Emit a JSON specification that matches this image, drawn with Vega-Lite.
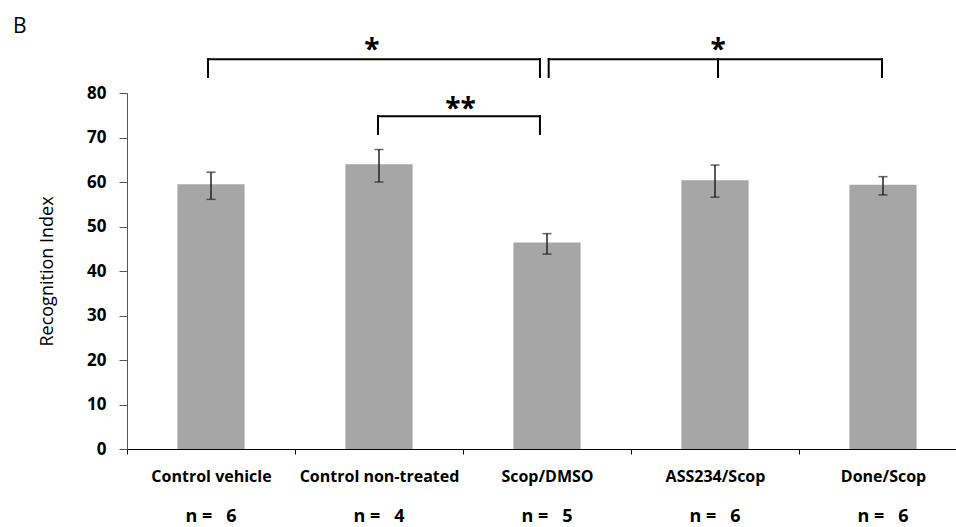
{
  "$schema": "https://vega.github.io/schema/vega-lite/v6.json",
  "autosize": "none",
  "width": 829,
  "height": 356,
  "padding": {"left": 127, "top": 93, "right": 0, "bottom": 78},
  "background": "white",
  "title": {"text": "B", "anchor": "start", "frame": "group", "dx": -114, "fontSize": 21, "fontWeight": "normal", "font": "Open Sans", "color": "#000000", "offset": 0},
  "config": {"view": {"stroke": null}, "font": "Open Sans"},
  "datasets": {
    "groups": [
      {"group": "Control vehicle", "mean": 59.5, "lo": 56.1, "hi": 62.2, "nlabel": "n = \u00a0\u00a06"},
      {"group": "Control non-treated", "mean": 64.0, "lo": 60.0, "hi": 67.3, "nlabel": "n = \u00a0\u00a04"},
      {"group": "Scop/DMSO", "mean": 46.4, "lo": 43.8, "hi": 48.4, "nlabel": "n = \u00a0\u00a05"},
      {"group": "ASS234/Scop", "mean": 60.4, "lo": 56.6, "hi": 63.8, "nlabel": "n = \u00a0\u00a06"},
      {"group": "Done/Scop", "mean": 59.4, "lo": 57.1, "hi": 61.2, "nlabel": "n = \u00a0\u00a06"}
    ],
    "brackets": [
      {"x1": 0.482, "x2": 2.458, "y1": 87.6, "y2": 87.6},
      {"x1": 0.482, "x2": 0.482, "y1": 83.6, "y2": 87.6},
      {"x1": 2.458, "x2": 2.458, "y1": 83.6, "y2": 87.6},
      {"x1": 2.51, "x2": 4.494, "y1": 87.6, "y2": 87.6},
      {"x1": 2.51, "x2": 2.51, "y1": 83.6, "y2": 87.6},
      {"x1": 3.518, "x2": 3.518, "y1": 83.6, "y2": 87.6},
      {"x1": 4.494, "x2": 4.494, "y1": 83.6, "y2": 87.6},
      {"x1": 1.494, "x2": 2.458, "y1": 74.8, "y2": 74.8},
      {"x1": 1.494, "x2": 1.494, "y1": 70.8, "y2": 74.8},
      {"x1": 2.458, "x2": 2.458, "y1": 70.8, "y2": 74.8}
    ],
    "stars": [
      {"u": 1.458, "y": 89.4, "label": "*"},
      {"u": 3.518, "y": 89.4, "label": "*"},
      {"u": 1.985, "y": 76.2, "label": "**"}
    ]
  },
  "layer": [
    {
      "layer": [
        {
          "data": {"name": "groups"},
          "mark": {"type": "bar", "color": "#a6a6a6", "width": {"band": 0.4}},
          "encoding": {
            "x": {
              "field": "group", "type": "nominal", "sort": null,
              "scale": {"range": [0, 840], "paddingInner": 0, "paddingOuter": 0},
              "axis": {
                "title": null, "labelAngle": 0, "tickBand": "extent", "tickSize": 5,
                "tickColor": "#000000", "domainColor": "#000000", "domainWidth": 1, "tickWidth": 1,
                "labelFont": "Open Sans", "labelFontWeight": "bold", "labelFontSize": 16,
                "labelColor": "#000000", "labelPadding": 14, "labelBaseline": "top"
              }
            },
            "y": {
              "field": "mean", "type": "quantitative",
              "scale": {"domain": [0, 80], "nice": false},
              "axis": {
                "title": "Recognition Index", "values": [0, 10, 20, 30, 40, 50, 60, 70, 80],
                "grid": false, "tickSize": 8, "tickColor": "#555555", "domainColor": "#555555",
                "labelFont": "Open Sans", "labelFontWeight": "bold", "labelFontSize": 17, "labelColor": "#000000",
                "labelPadding": 13, "titleFont": "Open Sans", "titleFontWeight": "normal", "titleFontSize": 18,
                "titleColor": "#000000", "titlePadding": 30
              }
            }
          }
        },
        {
          "data": {"name": "groups"},
          "mark": {"type": "rule", "color": "#222222", "strokeWidth": 1.5},
          "encoding": {
            "x": {"field": "group", "type": "nominal", "sort": null},
            "y": {"field": "lo", "type": "quantitative", "scale": {"domain": [0, 80], "nice": false}},
            "y2": {"field": "hi"}
          }
        },
        {
          "data": {"name": "groups"},
          "mark": {"type": "tick", "color": "#222222", "size": 9, "thickness": 1.5},
          "encoding": {
            "x": {"field": "group", "type": "nominal", "sort": null},
            "y": {"field": "lo", "type": "quantitative", "scale": {"domain": [0, 80], "nice": false}}
          }
        },
        {
          "data": {"name": "groups"},
          "mark": {"type": "tick", "color": "#222222", "size": 9, "thickness": 1.5},
          "encoding": {
            "x": {"field": "group", "type": "nominal", "sort": null},
            "y": {"field": "hi", "type": "quantitative", "scale": {"domain": [0, 80], "nice": false}}
          }
        },
        {
          "data": {"name": "groups"},
          "mark": {"type": "text", "font": "Open Sans", "fontWeight": "bold", "fontSize": 18, "color": "#000000", "baseline": "middle"},
          "encoding": {
            "x": {"field": "group", "type": "nominal", "sort": null},
            "y": {"datum": -15.3, "type": "quantitative", "scale": {"domain": [0, 80], "nice": false}},
            "text": {"field": "nlabel"}
          }
        }
      ]
    },
    {
      "layer": [
        {
          "data": {"name": "brackets"},
          "mark": {"type": "rule", "color": "#000000", "strokeWidth": 2, "strokeCap": "square"},
          "encoding": {
            "x": {"field": "x1", "type": "quantitative", "scale": {"domain": [0, 5], "range": [0, 840], "nice": false, "zero": false}, "axis": null},
            "x2": {"field": "x2"},
            "y": {"field": "y1", "type": "quantitative", "scale": {"domain": [0, 80], "nice": false}},
            "y2": {"field": "y2"}
          }
        },
        {
          "data": {"name": "stars"},
          "mark": {"type": "text", "font": "Open Sans", "fontWeight": "bold", "fontSize": 28, "color": "#000000", "baseline": "middle"},
          "encoding": {
            "x": {"field": "u", "type": "quantitative", "scale": {"domain": [0, 5], "range": [0, 840], "nice": false, "zero": false}, "axis": null},
            "y": {"field": "y", "type": "quantitative", "scale": {"domain": [0, 80], "nice": false}},
            "text": {"field": "label"}
          }
        }
      ]
    }
  ],
  "resolve": {"scale": {"x": "independent"}}
}
